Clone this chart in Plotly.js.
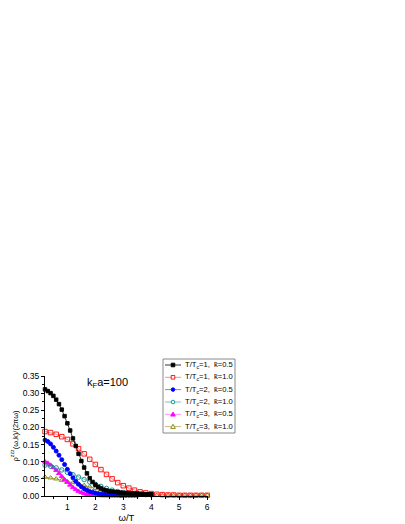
<!DOCTYPE html>
<html><head><meta charset="utf-8">
<script src="https://cdn.plot.ly/plotly-3.0.1.min.js"></script>
<style>body{margin:0;background:#fff}#c{width:405px;height:524px}</style>
</head><body><div id="c"></div>
<script>
// ω/T grids
const xFine = [0.2,0.3,0.4,0.5,0.6,0.7,0.8,0.9,1.0,1.1,1.2,1.3,1.4,1.5,1.6,1.7,1.8,1.9,2.0,2.1,2.2,2.3,2.4,2.5,2.6,2.7,2.8,2.9,3.0,3.1,3.2,3.3,3.4,3.5,3.6,3.7,3.8,3.9,4.0];
const xCoarse = [0.2,0.4,0.6,0.8,1.0,1.2,1.4,1.6,1.8,2.0,2.2,2.4,2.6,2.8,3.0,3.2,3.4,3.6,3.8,4.0,4.2,4.4,4.6,4.8,5.0,5.2,5.4,5.6,5.8,6.0];

// T/Tc=1, k=0.5
const yT1k05 = [0.311,0.306,0.300,0.292,0.281,0.268,0.252,0.233,0.212,0.191,0.168,0.146,0.123,0.102,0.083,0.066,0.052,0.041,0.033,0.027,0.022,0.018,0.016,0.014,0.013,0.012,0.011,0.010,0.009,0.009,0.008,0.008,0.007,0.007,0.006,0.006,0.005,0.005,0.005];
// T/Tc=1, k=1.0
const yT1k10 = [0.188,0.185,0.180,0.173,0.165,0.152,0.138,0.123,0.107,0.092,0.077,0.063,0.050,0.039,0.030,0.023,0.017,0.012,0.009,0.007,0.005,0.004,0.003,0.003,0.002,0.002,0.002,0.002,0.002,0.002];
// T/Tc=2, k=0.5
const yT2k05 = [0.163,0.159,0.152,0.142,0.131,0.119,0.106,0.092,0.078,0.065,0.053,0.043,0.034,0.027,0.021,0.017,0.013,0.011,0.009,0.007,0.006,0.005,0.004,0.004,0.003,0.003,0.003,0.002,0.002,0.002,0.002,0.002,0.002,0.002];
// T/Tc=2, k=1.0
const yT2k10 = [0.090,0.087,0.082,0.076,0.069,0.062,0.055,0.048,0.041,0.034,0.028,0.022,0.017,0.013,0.010,0.008,0.006,0.005,0.004,0.003];
// T/Tc=3, k=0.5
const yT3k05 = [0.100,0.096,0.090,0.083,0.075,0.066,0.057,0.048,0.040,0.032,0.025,0.019,0.014,0.010,0.007,0.005,0.004,0.003,0.002,0.002,0.001,0.001,0.001,0.001,0.001,0.001,0.001,0.001,0.001];
// T/Tc=3, k=1.0
const yT3k10 = [0.055,0.053,0.050,0.046,0.042,0.039,0.035,0.031,0.027,0.022,0.019,0.015,0.012,0.010,0.008,0.006,0.005,0.004,0.003,0.002,0.002,0.002,0.002,0.002,0.002,0.002,0.002,0.002,0.002,0.002];

const legendLabels = [
  "T/T<sub>c</sub>=1,  k̄=0.5",
  "T/T<sub>c</sub>=1,  k̄=1.0",
  "T/T<sub>c</sub>=2,  k̄=0.5",
  "T/T<sub>c</sub>=2,  k̄=1.0",
  "T/T<sub>c</sub>=3,  k̄=0.5",
  "T/T<sub>c</sub>=3,  k̄=1.0"
];

const series = [
  {x:xFine, y:yT1k05, color:'#000000', line:'#000000', symbol:'square', size:3.5},
  {x:xCoarse, y:yT1k10, color:'#ff0000', line:'#ff7070', symbol:'square-open', size:4.5},
  {x:xFine, y:yT2k05, color:'#0000ff', line:'#6060ff', symbol:'circle', size:4},
  {x:xCoarse, y:yT2k10, color:'#008b8b', line:'#60b0b0', symbol:'circle-open', size:4.5},
  {x:xFine, y:yT3k05, color:'#ff00ff', line:'#ff70ff', symbol:'triangle-up', size:4.5},
  {x:xCoarse, y:yT3k10, color:'#808000', line:'#b0b060', symbol:'triangle-up-open', size:4.5}
];

const traces = series.map((s,i)=>({
  type:'scatter', mode:'lines+markers', name:legendLabels[i],
  x:s.x.slice(0,s.y.length), y:s.y,
  line:{color:s.line,width:0.8},
  marker:{color:s.color,symbol:s.symbol,size:s.size,line:{color:s.color,width:0.9}},
  showlegend:false, cliponaxis:false
}));
traces.reverse();

const L=45, R=208, T=376, B=496;
const px=(x)=>(x-L)/(R-L), py=(y)=>(B-y)/(B-T);

const shapes=[{type:'rect',xref:'paper',yref:'paper',x0:px(163),x1:px(235),y0:py(433),y1:py(359),line:{color:'#888',width:1},fillcolor:'#fff',layer:'above'}];
const annotations=[{xref:'paper',yref:'paper',x:px(85),y:py(383),xanchor:'left',yanchor:'middle',showarrow:false,text:'k<sub>F</sub>a=100',font:{family:'Arial, Liberation Sans',size:11,color:'#000'}}];
const rowY=[365,377.3,389.6,402,414.3,426.6];
series.forEach((s,i)=>{
  const yy=rowY[i];
  shapes.push({type:'line',xref:'paper',yref:'paper',x0:px(165),x1:px(181),y0:py(yy),y1:py(yy),line:{color:s.line,width:0.8},layer:'above'});
  const filled=!s.symbol.includes('open');
  const fc=filled?s.color:'#fff';
  const r=1.8;
  if(s.symbol.startsWith('square')){
    shapes.push({type:'rect',xref:'paper',yref:'paper',x0:px(173-r),x1:px(173+r),y0:py(yy+r),y1:py(yy-r),line:{color:s.color,width:0.9},fillcolor:fc,layer:'above'});
  } else if(s.symbol.startsWith('circle')){
    shapes.push({type:'circle',xref:'paper',yref:'paper',x0:px(173-r),x1:px(173+r),y0:py(yy+r),y1:py(yy-r),line:{color:s.color,width:0.9},fillcolor:fc,layer:'above'});
  } else {
    shapes.push({type:'path',xref:'paper',yref:'paper',path:`M ${px(173-2.3)} ${py(yy+1.8)} L ${px(173+2.3)} ${py(yy+1.8)} L ${px(173)} ${py(yy-2.3)} Z`,line:{color:s.color,width:0.9},fillcolor:fc,layer:'above'});
  }
  annotations.push({xref:'paper',yref:'paper',x:px(183),y:py(yy),xanchor:'left',yanchor:'middle',showarrow:false,text:legendLabels[i],font:{family:'Arial, Liberation Sans',size:7.6,color:'#000'}});
});

const layout={
  width:405,height:524,
  margin:{l:L,r:405-R,t:T,b:524-B,pad:0},
  paper_bgcolor:'#fff',plot_bgcolor:'#fff',
  showlegend:false,
  font:{family:'Arial, Liberation Sans',size:8,color:'#000'},
  xaxis:{range:[0.2,6.03],tickvals:[1,2,3,4,5,6],ticks:'outside',ticklen:3,tickwidth:1,tickcolor:'#000',
    minor:{dtick:0.5,tick0:0,ticks:'outside',ticklen:2,tickcolor:'#000'},
    showline:true,linecolor:'#000',linewidth:1,showgrid:false,zeroline:false,
    tickfont:{size:8.5},title:{text:'ω/T',font:{size:9.5},standoff:2}},
  yaxis:{range:[0,0.35],tickvals:[0,0.05,0.1,0.15,0.2,0.25,0.3,0.35],tickformat:'.2f',ticks:'outside',ticklen:3,tickwidth:1,tickcolor:'#000',
    minor:{dtick:0.025,tick0:0,ticks:'outside',ticklen:2,tickcolor:'#000'},
    showline:true,linecolor:'#000',linewidth:1,showgrid:false,zeroline:false,
    tickfont:{size:8.5},title:{text:'ρ<sup>zzz</sup>(ω,k)/(2πω)',font:{size:7.5},standoff:3}},
  shapes:shapes,annotations:annotations
};
Plotly.newPlot('c',traces,layout,{displayModeBar:false,staticPlot:true});
</script></body></html>
